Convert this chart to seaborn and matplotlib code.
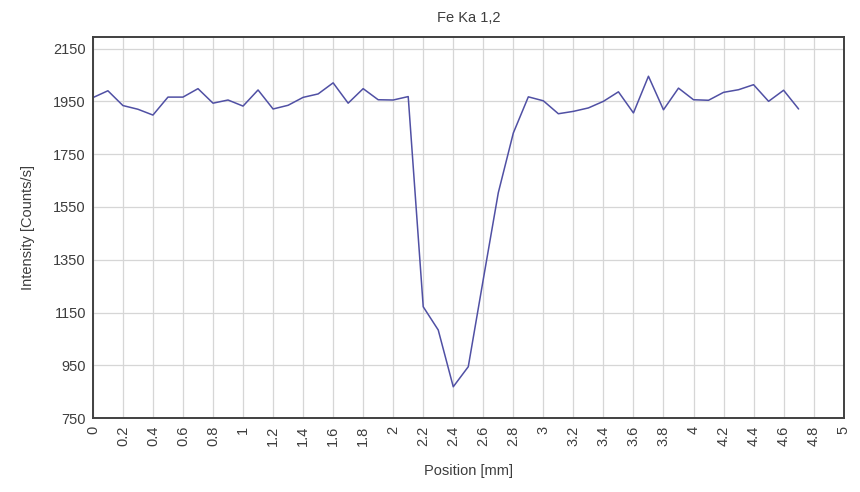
import numpy as np
import pandas as pd
import matplotlib
matplotlib.use("Agg")
import matplotlib.pyplot as plt
import seaborn as sns

# Line-scan profile: position along the scan and measured Fe K-alpha intensity
position_mm = [0.0, 0.1, 0.2, 0.3, 0.4, 0.5, 0.6, 0.7, 0.8, 0.9,
               1.0, 1.1, 1.2, 1.3, 1.4, 1.5, 1.6, 1.7, 1.8, 1.9,
               2.0, 2.1, 2.2, 2.3, 2.4, 2.5, 2.6, 2.7, 2.8, 2.9,
               3.0, 3.1, 3.2, 3.3, 3.4, 3.5, 3.6, 3.7, 3.8, 3.9,
               4.0, 4.1, 4.2, 4.3, 4.4, 4.5, 4.6, 4.7]
intensity_cps = [1964, 1990, 1934, 1920, 1898, 1966, 1966, 1998, 1943, 1955,
                 1932, 1993, 1921, 1935, 1965, 1978, 2020, 1943, 1998, 1956,
                 1955, 1968, 1172, 1084, 869, 945, 1276, 1604, 1830, 1967,
                 1952, 1903, 1912, 1925, 1950, 1986, 1906, 2045, 1918, 2000,
                 1956, 1954, 1984, 1994, 2013, 1950, 1992, 1921]

x_ticks = [0, 0.2, 0.4, 0.6, 0.8, 1, 1.2, 1.4, 1.6, 1.8, 2, 2.2, 2.4, 2.6,
           2.8, 3, 3.2, 3.4, 3.6, 3.8, 4, 4.2, 4.4, 4.6, 4.8, 5]
y_ticks = [750, 950, 1150, 1350, 1550, 1750, 1950, 2150]

df = pd.DataFrame({"Position": position_mm, "Intensity": intensity_cps})

sns.set_theme(style="white")
plt.rcParams["font.family"] = ["Liberation Sans", "DejaVu Sans"]

text_color = "#3d3d3d"
fig = plt.figure(figsize=(8.6, 4.92), dpi=100)
ax = fig.add_axes([0.108, 0.150, 0.873, 0.775])

sns.lineplot(data=df, x="Position", y="Intensity", ax=ax,
             color="#5050a4", linewidth=1.1)

ax.set_xlim(0, 5)
ax.set_ylim(750, 2194)
ax.set_xticks(x_ticks)
ax.set_xticklabels([f"{t:g}" for t in x_ticks], rotation=90)
ax.set_yticks(y_ticks)
ax.set_yticklabels([str(t) for t in y_ticks])

ax.grid(True, color="#d6d6d6", linewidth=0.9)
ax.set_axisbelow(True)
for side in ax.spines.values():
    side.set_color("#404040")
    side.set_linewidth(1.4)

ax.tick_params(axis="both", length=0, labelsize=10.5, colors=text_color)
ax.tick_params(axis="x", pad=5.5)
ax.tick_params(axis="y", pad=5)

ax.set_xlabel("Position [mm]", fontsize=10.5, color=text_color, labelpad=13)
ax.set_ylabel("Intensity [Counts/s]", fontsize=10.5, color=text_color, labelpad=13)
ax.set_title("Fe Ka 1,2", fontsize=10.5, color=text_color, pad=11)

fig.savefig("out.png", dpi=100, facecolor="white")
